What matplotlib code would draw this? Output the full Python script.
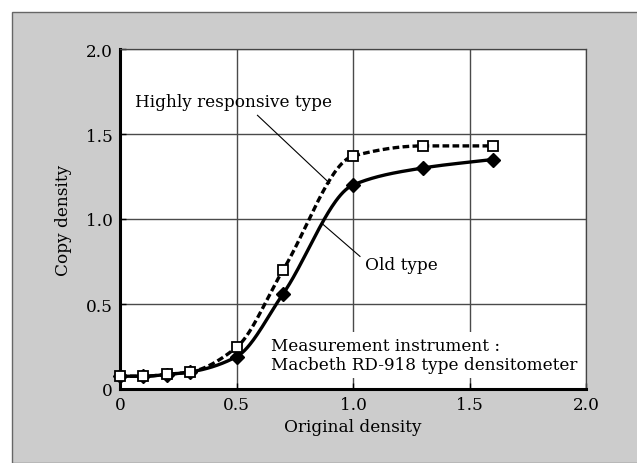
import numpy as np
import matplotlib
matplotlib.use('Agg')
from matplotlib import pyplot as plt
from matplotlib.patches import Rectangle

# data
orig = [0.0, 0.1, 0.2, 0.3, 0.5, 0.7, 1.0, 1.3, 1.6]
old_type = [0.075, 0.075, 0.085, 0.10, 0.19, 0.56, 1.20, 1.30, 1.35]
high_type = [0.075, 0.075, 0.086, 0.10, 0.245, 0.70, 1.37, 1.43, 1.43]

xticks = [0, 0.5, 1.0, 1.5, 2.0]
xticklabels = ['0', '0.5', '1.0', '1.5', '2.0']
yticks = [0, 0.5, 1.0, 1.5, 2.0]
yticklabels = ['0', '0.5', '1.0', '1.5', '2.0']


def pchip(x, y, xn):
    # monotone cubic through the points (smooth curve like the original)
    x = np.asarray(x, float)
    y = np.asarray(y, float)
    h = np.diff(x)
    d = np.diff(y) / h
    n = len(x)
    m = np.zeros(n)
    for k in range(1, n - 1):
        if d[k - 1] * d[k] > 0:
            w1 = 2 * h[k] + h[k - 1]
            w2 = h[k] + 2 * h[k - 1]
            m[k] = (w1 + w2) / (w1 / d[k - 1] + w2 / d[k])
    m[0] = d[0]
    m[-1] = d[-1]
    out = np.empty_like(xn)
    for i, xv in enumerate(xn):
        k = min(np.searchsorted(x, xv, side='right') - 1, n - 2)
        t = (xv - x[k]) / h[k]
        h00 = 2 * t**3 - 3 * t**2 + 1
        h10 = t**3 - 2 * t**2 + t
        h01 = -2 * t**3 + 3 * t**2
        h11 = t**3 - t**2
        out[i] = h00 * y[k] + h10 * h[k] * m[k] + h01 * y[k + 1] + h11 * h[k] * m[k + 1]
    return out


plt.rcParams['font.family'] = 'DejaVu Serif'
plt.rcParams['font.size'] = 12.2

fig = plt.figure(figsize=(6.37, 4.64), dpi=100, facecolor='white')
fig.patches.append(Rectangle((12 / 637, 0), 1, 1 - 13 / 464, transform=fig.transFigure,
                             facecolor='#cccccc', edgecolor='#666666', linewidth=1, zorder=-1))

ax = fig.add_axes([120 / 637, 74 / 464, 466 / 637, 340 / 464])
ax.set_facecolor('white')
ax.set_xlim(0, 2)
ax.set_ylim(0, 2)
ax.set_axisbelow(True)
ax.grid(True, color='#4a4a4a', linewidth=1.0)

xs = np.linspace(0, 1.6, 300)
ax.plot(xs, pchip(orig, old_type, xs), color='black', lw=2.4, zorder=3)
ax.plot(orig, old_type, linestyle='none', marker='D', ms=7, color='black', zorder=4,
        clip_on=False)
ax.plot(xs, pchip(orig, high_type, xs), color='black', lw=2.4, dashes=(2, 1), zorder=5)
ax.plot(orig, high_type, linestyle='none', marker='s', ms=6.8, mfc='white', mec='black',
        mew=1.3, zorder=6, clip_on=False)

ax.text(0.065, 1.69, 'Highly responsive type', va='center', ha='left', zorder=7)
ax.plot([0.59, 0.90], [1.61, 1.21], color='black', lw=0.8, zorder=7)
ax.text(1.05, 0.735, 'Old type', va='center', ha='left', zorder=7)
ax.plot([0.87, 1.03], [0.97, 0.78], color='black', lw=0.8, zorder=7)

ax.text(0.648, 0.2, 'Measurement instrument :\nMacbeth RD-918 type densitometer',
        va='center', ha='left', linespacing=1.2, zorder=2,
        bbox=dict(facecolor='white', edgecolor='none', pad=3))

ax.set_xticks(xticks)
ax.set_xticklabels(xticklabels)
ax.set_yticks(yticks)
ax.set_yticklabels(yticklabels)
ax.tick_params(direction='in', length=4, width=1, colors='black', pad=5)
for s in ['left', 'bottom']:
    ax.spines[s].set_linewidth(2.2)
for s in ['top', 'right']:
    ax.spines[s].set_linewidth(0.9)
    ax.spines[s].set_color('#444444')

ax.set_xlabel('Original density', labelpad=4)
ax.set_ylabel('Copy density', labelpad=10)

fig.savefig('out.png', dpi=100, facecolor=fig.get_facecolor())
